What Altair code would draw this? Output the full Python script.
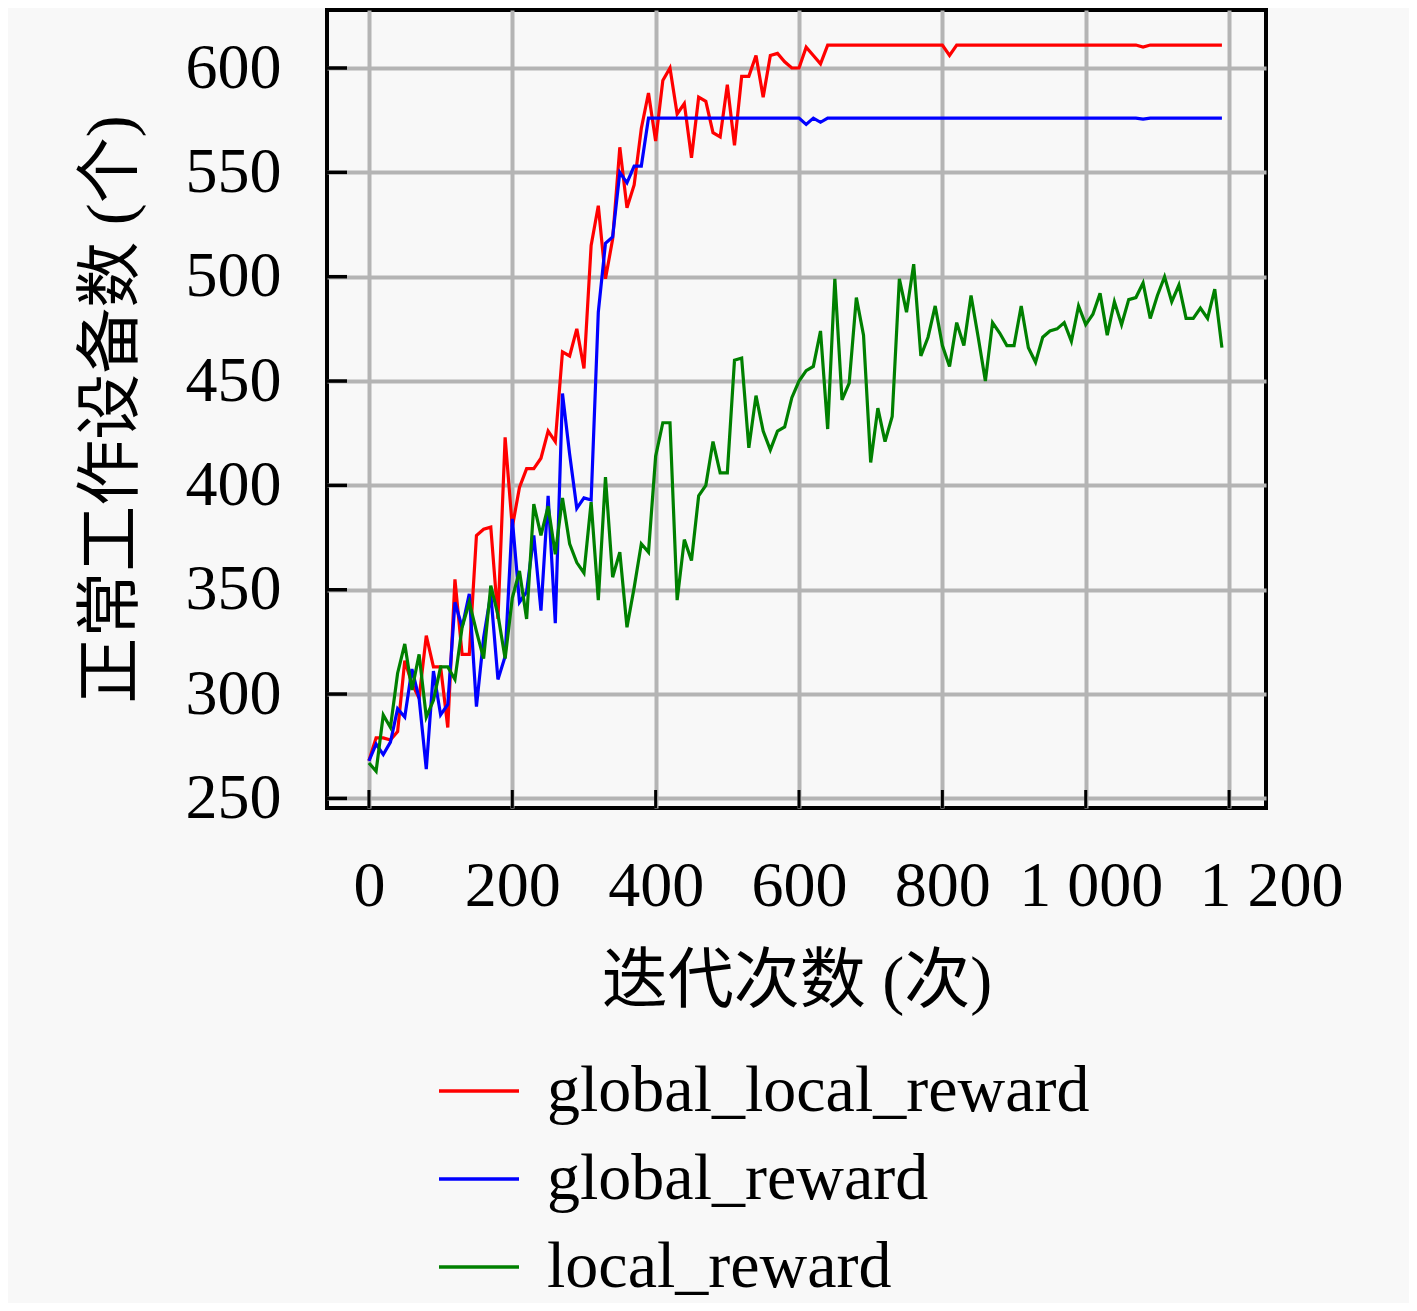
import altair as alt
import pandas as pd

iterations = list(range(0, 1200, 10))

red = [
    268, 279, 279, 278, 282, 316, 305, 298, 328, 313,
    313, 284, 355, 319, 319, 376, 379, 380, 336, 423,
    380, 399, 408, 408, 413, 426, 421, 464, 462, 475,
    456, 515, 534, 499, 518, 562, 533, 544, 571, 588,
    565, 594, 600, 578, 583, 557, 586, 584, 569, 567,
    592, 563, 596, 596, 606, 586, 606, 607, 603, 600,
    600, 610, 606, 602, 611, 611, 611, 611, 611, 611,
    611, 611, 611, 611, 611, 611, 611, 611, 611, 611,
    611, 606, 611, 611, 611, 611, 611, 611, 611, 611,
    611, 611, 611, 611, 611, 611, 611, 611, 611, 611,
    611, 611, 611, 611, 611, 611, 611, 611, 610, 611,
    611, 611, 611, 611, 611, 611, 611, 611, 611, 611,
]

blue = [
    268, 276, 271, 277, 293, 289, 312, 298, 264, 311,
    290, 295, 344, 332, 348, 294, 327, 348, 307, 318,
    384, 344, 349, 376, 340, 395, 334, 444, 415, 389,
    394, 393, 483, 516, 519, 550, 545, 553, 553, 576,
    576, 576, 576, 576, 576, 576, 576, 576, 576, 576,
    576, 576, 576, 576, 576, 576, 576, 576, 576, 576,
    576, 573, 576, 574, 576, 576, 576, 576, 576, 576,
    576, 576, 576, 576, 576, 576, 576, 576, 576, 576,
    576, 576, 576, 576, 576, 576, 576, 576, 576, 576,
    576, 576, 576, 576, 576, 576, 576, 576, 576, 576,
    576, 576, 576, 576, 576, 576, 576, 576, 575.5, 576,
    576, 576, 576, 576, 576, 576, 576, 576, 576, 576,
]

green = [
    267, 263, 290, 284, 310, 324, 302, 319, 289, 297,
    313, 313, 307, 332, 344, 330, 317, 352, 338, 317,
    346, 359, 336, 391, 376, 390, 367, 394, 372, 363,
    358, 392, 345, 404, 356, 368, 332, 351, 372, 368,
    414, 430, 430, 345, 374, 364, 395, 400, 421, 406,
    406, 460, 461, 418, 443, 426, 417, 426, 428, 442,
    450, 455, 457, 474, 427, 499, 441, 449, 490, 472,
    411, 437, 421, 433, 499, 483, 506, 462, 471, 486,
    467, 457, 478, 467, 491, 471, 450, 478, 473, 467,
    467, 486, 466, 459, 471, 474, 475, 478, 469, 486,
    477, 482, 492, 472, 488, 477, 489, 490, 497, 480,
    491, 500, 488, 496, 480, 480, 485, 480, 494, 466,
]

series_names = ["global_local_reward", "global_reward", "local_reward"]
series_colors = ["#ff0000", "#0000ff", "#008000"]
x_ticks = [0, 200, 400, 600, 800, 1000, 1200]
y_ticks = [250, 300, 350, 400, 450, 500, 550, 600]
x_title = "迭代次数 (次)"
y_title = "正常工作设备数 (个)"

rows = []
for name, vals in zip(series_names, [red, blue, green]):
    for it, v in zip(iterations, vals):
        rows.append({"it": it, "value": v, "series": name})
df = pd.DataFrame(rows)

FONT = "Liberation Serif, Noto Sans CJK SC"
W, H = 939, 798
xscale = alt.Scale(domain=[-58.5, 1251.5], nice=False, zero=False)
yscale = alt.Scale(domain=[245.4, 627.8], nice=False, zero=False)

x_axis = alt.Axis(
    values=x_ticks, title=x_title,
    labelExpr="replace(format(datum.value, ','), ',', ' ')",
    grid=True, ticks=False, domain=False,
    labelPadding=46, titlePadding=31,
    labelOffset={"condition": [{"test": "datum.value == 1200", "value": 42},
                               {"test": "datum.value == 1000", "value": 5}],
                 "value": 0},
)
y_axis = alt.Axis(
    values=y_ticks, title=y_title, grid=True, ticks=False, domain=False,
    labelPadding=46, titlePadding=40,
)

lines = alt.Chart(df).mark_line(strokeWidth=3.2, clip=True).encode(
    x=alt.X("it:Q", scale=xscale, axis=x_axis),
    y=alt.Y("value:Q", scale=yscale, axis=y_axis),
    color=alt.Color(
        "series:N",
        scale=alt.Scale(domain=series_names, range=series_colors),
        legend=alt.Legend(
            title=None, orient="none", legendX=110, legendY=1039,
            symbolType="stroke", symbolSize=6400, symbolStrokeWidth=3.5,
            labelFont=FONT, labelFontSize=66, labelOffset=26, rowPadding=13,
            padding=0, labelLimit=0, labelColor="black",
        ),
    ),
)

xt = alt.Chart(pd.DataFrame({"it": x_ticks})).mark_rule(color="black", strokeWidth=3).encode(
    x=alt.X("it:Q", scale=xscale, axis=x_axis),
    y=alt.value(H),
    y2=alt.value(H - 18),
)
yt = alt.Chart(pd.DataFrame({"value": y_ticks})).mark_rule(color="black", strokeWidth=3.5).encode(
    y=alt.Y("value:Q", scale=yscale, axis=y_axis),
    x=alt.value(0),
    x2=alt.value(20),
)

chart = alt.layer(lines, xt, yt).properties(
    width=W, height=H,
    autosize=alt.AutoSizeParams(type="none"),
    padding={"left": 319, "top": 2, "right": 143, "bottom": 495},
    background="#f8f8f8",
).configure_view(
    stroke="black", strokeWidth=4, fill="#f8f8f8",
).configure_axis(
    labelFont=FONT, labelFontSize=64, labelColor="black",
    titleFont=FONT, titleFontSize=66, titleFontWeight="normal", titleColor="black",
    gridColor="#b4b4b4", gridWidth=4, gridOpacity=1,
)

chart.save("out.html", embed_options={"renderer": "svg", "actions": False})
